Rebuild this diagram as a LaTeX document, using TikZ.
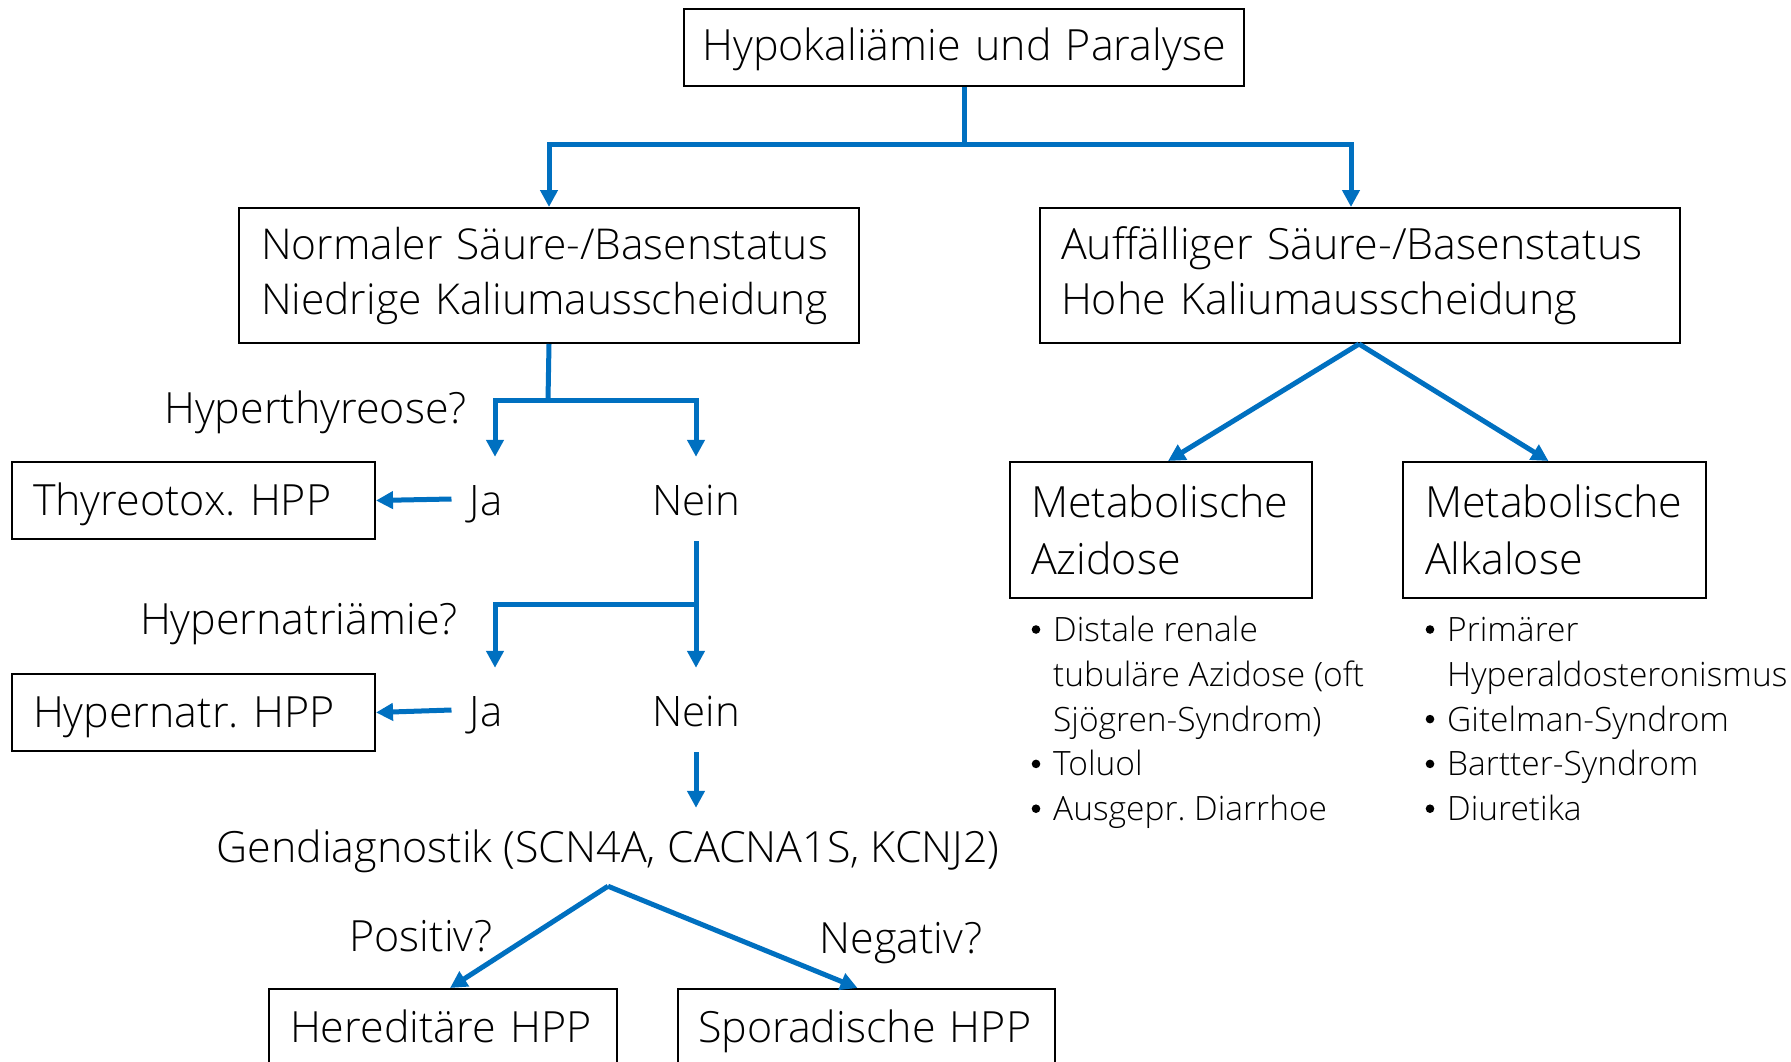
\documentclass[tikz,border=0pt]{standalone}
\usepackage{fontspec}
\IfFontExistsTF{Open Sans Light}{\setmainfont{Open Sans Light}}{\setmainfont{Open Sans}}
\usetikzlibrary{arrows.meta}
\definecolor{conblue}{RGB}{0,112,192}
\frenchspacing
\begin{document}
\begin{tikzpicture}[x=1pt,y=-1pt,
  box/.style={draw=black,line width=2pt,anchor=north west,align=left,inner ysep=0pt,font=\fontsize{43}{55}\selectfont},
  onebox/.style={box,text height=29pt,text depth=0pt,minimum height=77pt},
  conn/.style={draw=conblue,line width=5pt},
  arr/.style={conn,-{Triangle[length=17pt,width=17pt]}},
  yn/.style={font=\fontsize{42}{50}\selectfont,text height=32pt,text depth=0pt,inner xsep=18pt,inner ysep=26pt,anchor=base},
  qtext/.style={font=\fontsize{43}{50}\selectfont,inner sep=0pt,anchor=base east},
  bul/.style={font=\fontsize{33.5}{40}\selectfont,inner sep=0pt,anchor=base west},
  dot/.style={fill=black}]
\useasboundingbox (0,0) rectangle (1791,1062);
\clip (0,0) rectangle (1791,1062);
\fill[white] (0,0) rectangle (1791,1062);

% boxes
\node[onebox,align=center,text width=540pt,inner xsep=10pt,text height=27pt] (top) at (683,8) {Hypokaliämie und Paralyse};
\node[box,text width=576pt,inner xsep=22pt,minimum height=135pt,font=\fontsize{42.5}{55}\selectfont] (nsb) at (238,207) {Normaler Säure-/Basenstatus\\Niedrige Kaliumausscheidung};
\node[box,text width=598pt,inner xsep=21pt,minimum height=135pt] (asb) at (1039,207) {Auffälliger Säure-/Basenstatus\\Hohe Kaliumausscheidung};
\node[onebox,text width=321pt,inner xsep=21pt] (thy) at (11,461) {Thyreotox. HPP};
\node[onebox,text width=321pt,inner xsep=21pt] (hna) at (11,673) {Hypernatr. HPP};
\node[onebox,text width=306pt,inner xsep=21pt] (her) at (268,988) {Hereditäre HPP};
\node[onebox,text width=337pt,inner xsep=20pt] (spo) at (677,988) {Sporadische HPP};
\node[box,text width=260pt,inner xsep=21pt,minimum height=136pt,font=\fontsize{43}{57}\selectfont] (azi) at (1009,461) {Metabolische\\Azidose};
\node[box,text width=259pt,inner xsep=22pt,minimum height=136pt,font=\fontsize{43}{57}\selectfont] (alk) at (1402,461) {Metabolische\\Alkalose};

% decision labels
\node[qtext] (q1) at (467,423) {Hyperthyreose?};
\node[qtext] (q2) at (458,634) {Hypernatriämie?};
\node[yn] (ja1) at (486,515) {Ja};
\node[yn] (nein1) at (696,515) {Nein};
\node[yn] (ja2) at (486,726) {Ja};
\node[yn] (nein2) at (696,726) {Nein};
\node[font=\fontsize{43}{50}\selectfont,text height=30pt,text depth=0pt,inner xsep=0pt,inner ysep=24pt,anchor=base] (gen) at (608,862) {Gendiagnostik (SCN4A, CACNA1S, KCNJ2)};
\node[font=\fontsize{43}{50}\selectfont,inner sep=0pt,anchor=base] (pos) at (421,951) {Positiv?};
\node[font=\fontsize{43}{50}\selectfont,inner sep=0pt,anchor=base] (neg) at (901,953) {Negativ?};

% bullet lists
\node[bul] (a1) at (1053,641.5) {Distale renale};
\node[bul] (a2) at (1053,686.3) {tubuläre Azidose (oft};
\node[bul] (a3) at (1053,731.1) {Sjögren-Syndrom)};
\node[bul] (a4) at (1053,775.9) {Toluol};
\node[bul] (a5) at (1053,820.7) {Ausgepr. Diarrhoe};
\node[bul] (k1) at (1447,641.5) {Primärer};
\node[bul] (k2) at (1447,686.3) {Hyperaldosteronismus};
\node[bul] (k3) at (1447,731.1) {Gitelman-Syndrom};
\node[bul] (k4) at (1447,775.9) {Bartter-Syndrom};
\node[bul] (k5) at (1447,820.7) {Diuretika};
\foreach \yy in {629.5,763.9,808.7} {\fill[dot] (1036,\yy) circle (4.3);}
\foreach \yy in {629.5,719.1,763.9,808.7} {\fill[dot] (1430,\yy) circle (4.3);}

% junctions
\coordinate (j1) at (964,145);
\coordinate (j2) at (548,400);
\coordinate (j3) at (696,604);

% connectors
\draw[conn] (top.south -| j1) -- (j1);
\draw[arr] (j1) -| (nsb.north);
\draw[arr] (j1) -| ([xshift=-9pt]asb.north);
\draw[conn] (nsb.south) -- (j2);
\draw[arr] (j2) -| ([xshift=9pt]ja1.north);
\draw[arr] (j2) -| (nein1.north);
\draw[arr] (ja1.west) -- (thy.east);
\draw[conn] (nein1.south) -- (j3);
\draw[arr] (j3) -- (nein2.north);
\draw[arr] (j3) -| ([xshift=9pt]ja2.north);
\draw[arr] (ja2.west) -- (hna.east);
\draw[arr] (nein2.south) -- (nein2.south |- gen.north);
\draw[arr] (gen.south) -- ([xshift=7pt]her.north);
\draw[arr] (gen.south) -- ([xshift=-9pt]spo.north);
\draw[arr] ([xshift=-1pt]asb.south) -- ([xshift=7pt]azi.north);
\draw[arr] ([xshift=-1pt]asb.south) -- ([xshift=-6pt]alk.north);
\end{tikzpicture}
\end{document}
